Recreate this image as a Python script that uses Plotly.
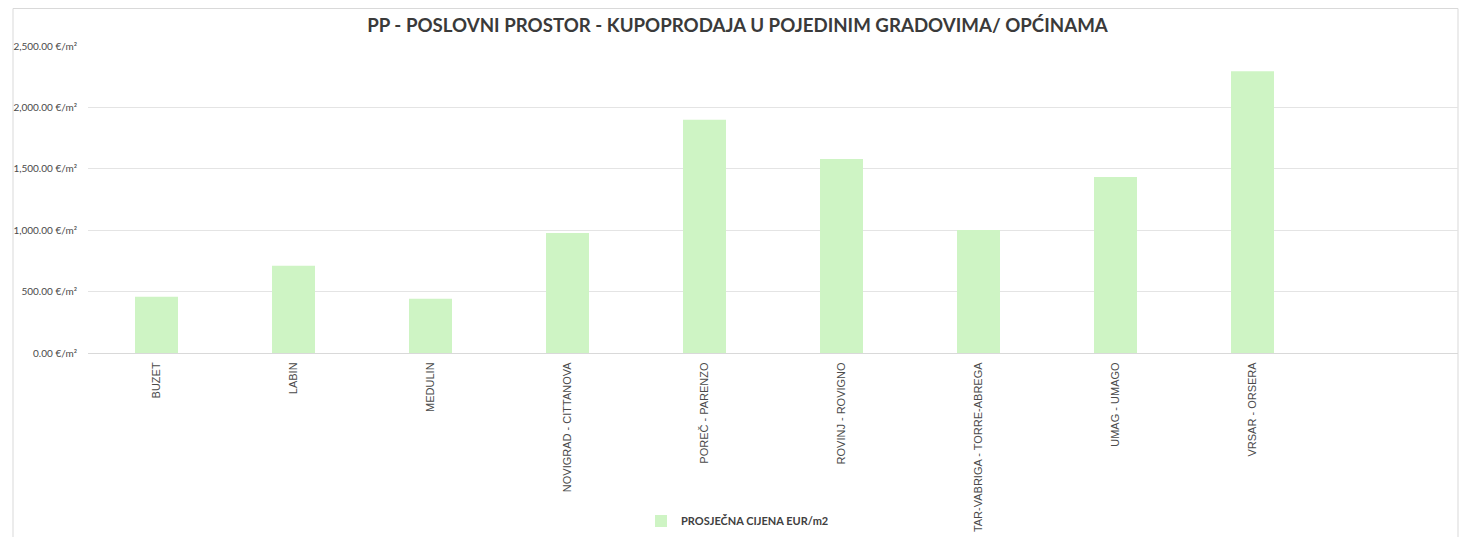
import plotly.graph_objects as go

categories = ["BUZET", "LABIN", "MEDULIN", "NOVIGRAD - CITTANOVA", "POREČ - PARENZO",
              "ROVINJ - ROVIGNO", "TAR-VABRIGA - TORRE-ABREGA", "UMAG - UMAGO", "VRSAR - ORSERA"]
prices = [458, 710, 441, 978, 1899, 1579, 1002, 1433, 2294]
series_name = "PROSJEČNA CIJENA EUR/m2"
title_text = "PP - POSLOVNI PROSTOR - KUPOPRODAJA U POJEDINIM GRADOVIMA/ OPĆINAMA"
y_tickvals = [0, 500, 1000, 1500, 2000, 2500]
y_ticktext = ["0.00 €/m²", "500.00 €/m²", "1,000.00 €/m²", "1,500.00 €/m²", "2,000.00 €/m²", "2,500.00 €/m²"]

bar_color = "#CEF4C4"

fig = go.Figure()
fig.add_trace(go.Bar(
    x=categories, y=prices, name=series_name,
    marker=dict(color=bar_color, line=dict(width=0)),
    showlegend=True,
))

# page has an 8px body margin; figure sized so page coords match the reference
W, H = 1459, 529
ml, mr, mt, mb = 80, 9, 38, 184
pw = W - ml - mr
ph = H - mt - mb

def px_to_paper_x(px):
    return (px - ml) / pw

def px_to_paper_y(py):
    return (H - mb - py) / ph

fig.update_layout(
    width=W, height=H,
    margin=dict(l=ml, r=mr, t=mt, b=mb, pad=0, autoexpand=False),
    paper_bgcolor="white", plot_bgcolor="white",
    bargap=0.686,
    title=dict(text="<b>" + title_text + "</b>", x=0.5, xref="container", xanchor="center",
               y=1 - 17 / H, yanchor="middle",
               font=dict(family="Lato, Open Sans, sans-serif", size=18.7, color="#3A3A3A")),
    font=dict(family="Lato, sans-serif", color="#595959"),
    xaxis=dict(
        type="category", range=[-0.5, 9.5], automargin=False,
        tickangle=-90, tickfont=dict(family="Liberation Sans, Arial, sans-serif", size=11, color="#4A4A4A"),
        showgrid=False, showline=True, linecolor="#D9D9D9", linewidth=1,
        ticks="", ticklen=0, ticklabelstandoff=4,
    ),
    yaxis=dict(
        range=[0, 2500], tickvals=y_tickvals, ticktext=y_ticktext, automargin=False,
        tickfont=dict(family="Lato, sans-serif", size=10, color="#4A4A4A"),
        showgrid=True, gridcolor="#E4E4E4", gridwidth=1,
        zeroline=False, showline=False, ticks="", ticklabelstandoff=10,
    ),
    legend=dict(orientation="h", x=0.5, xref="container", xanchor="center",
                y=16 / H, yref="container", yanchor="middle",
                font=dict(family="Lato, sans-serif", size=11, color="#404040", weight="bold"),
                itemwidth=30),
    shapes=[
        dict(type="rect", xref="paper", yref="paper",
             x0=px_to_paper_x(5), x1=px_to_paper_x(1450),
             y0=px_to_paper_y(545), y1=px_to_paper_y(0.5),
             line=dict(color="#D9D9D9", width=1), fillcolor="rgba(0,0,0,0)", layer="below"),
    ],
)

fig.write_html("out.html")
